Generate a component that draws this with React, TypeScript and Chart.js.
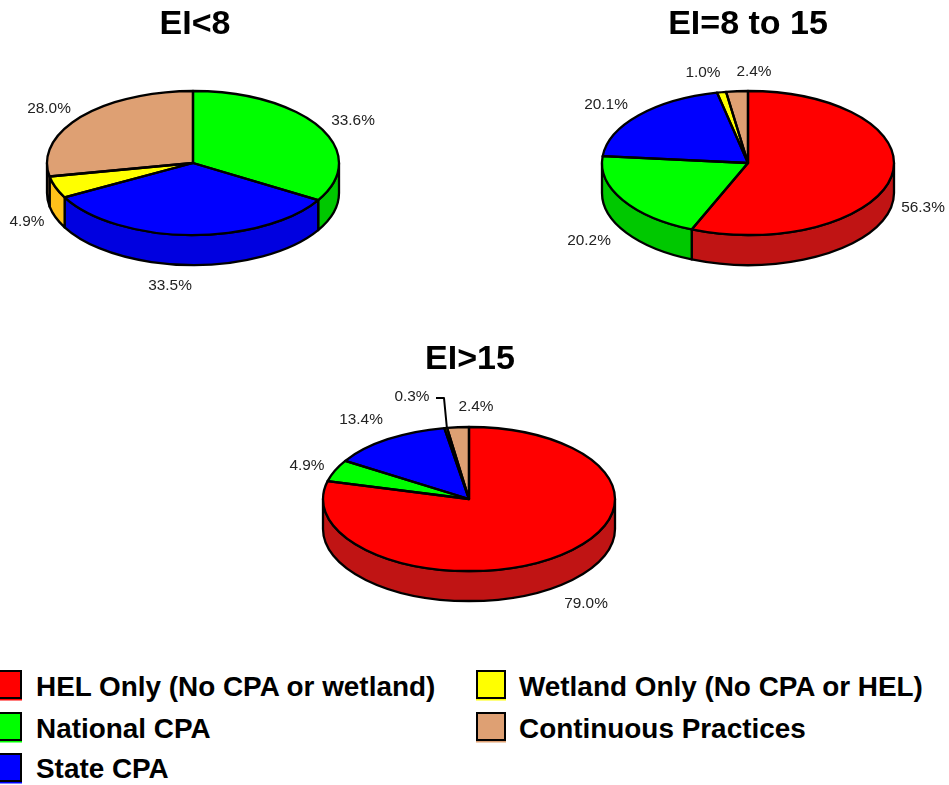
import React, { useEffect, useRef } from "react";
import { Chart, registerables } from "chart.js";

Chart.register(...registerables);

const FONT = '"Liberation Sans", Arial, sans-serif';

const categories = [
  "HEL Only (No CPA or wetland)",
  "National CPA",
  "State CPA",
  "Wetland Only (No CPA or HEL)",
  "Continuous Practices",
];
const topColors = ["#ff0000", "#00ff00", "#0000ff", "#ffff00", "#dea073"];
const sideColors = ["#c01414", "#00c800", "#0000e0", "#ffc01a", "#b08058"];

const valuesLow = [0, 33.6, 33.5, 4.9, 28.0];
const valuesMid = [56.3, 20.2, 20.1, 1.0, 2.4];
const valuesHigh = [79.0, 4.9, 13.4, 0.3, 2.4];

const titles = ["EI<8", "EI=8 to 15", "EI>15"];

// offsets of the percentage labels from the pie centre, by category
const labelOffsetsLow: [number, number][] = [[0, 0], [160, -44], [-23, 121], [-166, 57], [-144, -56]];
const labelOffsetsMid: [number, number][] = [[175, 43], [-159, 76], [-142, -60], [-45, -92], [6, -93]];
const labelOffsetsHigh: [number, number][] = [[117, 103], [-162, -35], [-108, -81], [-57, -104], [7, -94]];

const leaderHigh: [number, number][] = [[-33, -101], [-25, -101], [-22, -70]];

const Y_RATIO = 72 / 146;
const DEPTH = 30;
const LINE = 2.3;

const piePlugin = {
  id: "pie3d",
  beforeDatasetsDraw(chart: any) {
    const ctx = chart.ctx;
    const arcs = chart.getDatasetMeta(0).data;
    const first = arcs[0];
    const cx = first.x;
    const cy = first.y;
    ctx.save();
    ctx.lineWidth = LINE;
    ctx.lineJoin = "round";
    ctx.strokeStyle = "#000";
    arcs.forEach((arc: any, i: number) => {
      const a = Math.max(arc.startAngle, 0);
      const b = Math.min(arc.endAngle, Math.PI);
      if (b - a <= 1e-4) return;
      const r = arc.outerRadius;
      const ry = r * Y_RATIO;
      ctx.beginPath();
      ctx.ellipse(cx, cy, r, ry, 0, a, b);
      ctx.ellipse(cx, cy + DEPTH, r, ry, 0, b, a, true);
      ctx.closePath();
      ctx.fillStyle = sideColors[i];
      ctx.fill();
      ctx.stroke();
    });
    ctx.restore();
    // squash the top face while the library draws its arcs
    ctx.save();
    ctx.translate(cx, cy);
    ctx.scale(1, Y_RATIO);
    ctx.translate(-cx, -cy);
  },
  afterDatasetsDraw(chart: any, _args: any, opts: any) {
    const ctx = chart.ctx;
    ctx.restore();
    const arcs = chart.getDatasetMeta(0).data;
    const cx = arcs[0].x;
    const cy = arcs[0].y;
    const values = chart.data.datasets[0].data;
    ctx.save();
    ctx.lineWidth = LINE;
    ctx.lineJoin = "round";
    ctx.strokeStyle = "#000";
    arcs.forEach((arc: any, i: number) => {
      if (!values[i]) return;
      const r = arc.outerRadius;
      ctx.beginPath();
      ctx.moveTo(cx, cy);
      ctx.ellipse(cx, cy, r, r * Y_RATIO, 0, arc.startAngle, arc.endAngle);
      ctx.closePath();
      ctx.stroke();
    });
    ctx.fillStyle = "#222";
    ctx.font = `15.4px ${FONT}`;
    ctx.textAlign = "center";
    ctx.textBaseline = "middle";
    values.forEach((v: number, i: number) => {
      if (!v) return;
      const [dx, dy] = opts.labelOffsets[i];
      ctx.fillText(`${v.toFixed(1)}%`, cx + dx, cy + dy + 1.5);
    });
    if (opts.leader) {
      ctx.lineWidth = 2;
      ctx.beginPath();
      opts.leader.forEach(([dx, dy]: [number, number], i: number) => {
        if (i === 0) ctx.moveTo(cx + dx, cy + dy);
        else ctx.lineTo(cx + dx, cy + dy);
      });
      ctx.stroke();
    }
    ctx.fillStyle = "#000";
    ctx.font = `bold 34px ${FONT}`;
    ctx.textBaseline = "alphabetic";
    ctx.fillText(opts.title, cx + opts.titleDx, cy + opts.titleDy);
    ctx.restore();
  },
};

function Pie(props: {
  left: number; top: number; padding: any; values: number[]; title: string;
  labelOffsets: [number, number][]; leader?: [number, number][]; titleDx: number; titleDy: number;
}) {
  const ref = useRef<HTMLCanvasElement>(null);
  useEffect(() => {
    const chart = new Chart(ref.current as HTMLCanvasElement, {
      type: "pie",
      data: {
        labels: categories,
        datasets: [{ data: props.values, backgroundColor: topColors, borderWidth: 0 }],
      },
      plugins: [piePlugin],
      options: {
        responsive: false,
        animation: false,
        events: [],
        layout: { padding: props.padding },
        plugins: {
          legend: { display: false },
          tooltip: { enabled: false },
          title: { display: false },
          pie3d: {
            labelOffsets: props.labelOffsets,
            leader: props.leader,
            title: props.title,
            titleDx: props.titleDx,
            titleDy: props.titleDy,
          },
        },
      } as any,
    });
    return () => chart.destroy();
  }, []);
  return (
    <canvas
      ref={ref}
      width={400}
      height={320}
      style={{ position: "absolute", left: props.left, top: props.top, width: 400, height: 320 }}
    />
  );
}

const legendLayout = [
  { x: -8, y: 670, ty: 671, tx: 36 },
  { x: -8, y: 712, ty: 713, tx: 36 },
  { x: -8, y: 753, ty: 753, tx: 36 },
  { x: 476, y: 670, ty: 671, tx: 519 },
  { x: 476, y: 712, ty: 713, tx: 519 },
];

export default function App() {
  return (
    <div style={{ position: "absolute", left: 0, top: 0, width: 949, height: 785, overflow: "hidden", background: "#fff" }}>
      <Pie left={0} top={0} padding={{ left: 47, right: 61, top: 17, bottom: 11 }} values={valuesLow} title={titles[0]}
        labelOffsets={labelOffsetsLow} titleDx={2} titleDy={-129} />
      <Pie left={549} top={0} padding={{ left: 53, right: 55, top: 17, bottom: 11 }} values={valuesMid} title={titles[1]}
        labelOffsets={labelOffsetsMid} titleDx={0} titleDy={-129} />
      <Pie left={270} top={336} padding={{ left: 53, right: 55, top: 17, bottom: 11 }} values={valuesHigh} title={titles[2]}
        labelOffsets={labelOffsetsHigh} leader={leaderHigh} titleDx={1} titleDy={-130} />
      {categories.map((c, i) => (
        <React.Fragment key={c}>
          <div style={{
            position: "absolute", left: legendLayout[i].x, top: legendLayout[i].y, width: 30, height: 29,
            boxSizing: "border-box", background: topColors[i], border: "2px solid #000",
            boxShadow: `0 1.5px 0 ${topColors[i]}`,
          }} />
          <div style={{
            position: "absolute", left: legendLayout[i].tx, top: legendLayout[i].ty, height: 32,
            font: `bold 27.9px/32px ${FONT}`, color: "#000", whiteSpace: "nowrap",
          }}>{c}</div>
        </React.Fragment>
      ))}
    </div>
  );
}
